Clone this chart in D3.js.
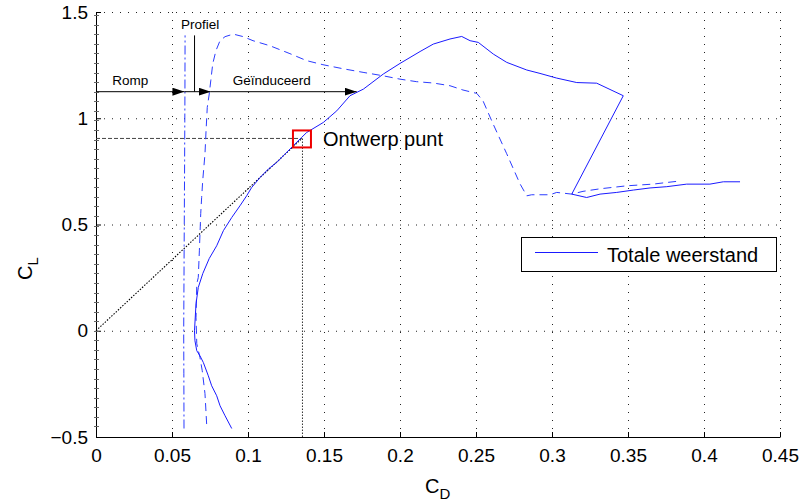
<!DOCTYPE html>
<html>
<head>
<meta charset="utf-8">
<script src="https://cdn.jsdelivr.net/npm/d3@7"></script>
<style>
  body { margin: 0; background: #fff; }
  text { font-family: "Liberation Sans", Arial, sans-serif; }
</style>
</head>
<body>
<script>
// CD / CL values
const rompCD = [0.0579, 0.0578, 0.0577, 0.0580, 0.0583, 0.0585, 0.0586];
const rompCL = [-0.46, -0.2, 0.0, 0.4, 0.8, 1.1, 1.39];

const profielCD = [0.0728, 0.0717, 0.0699, 0.0684, 0.0663, 0.0658, 0.0663, 0.0673, 0.0680, 0.0689, 0.0695, 0.0702, 0.0717, 0.0724,
  0.0732, 0.0745, 0.0755, 0.0768, 0.0789, 0.0816, 0.0849, 0.0903, 0.0969, 0.1033, 0.1145, 0.1276, 0.1386, 0.1493, 0.1625,
  0.1757, 0.1888, 0.2000, 0.2110, 0.2217, 0.2329, 0.2414, 0.2505, 0.2546, 0.2612, 0.2702, 0.2789, 0.2834, 0.2866, 0.2987,
  0.3031, 0.3130, 0.3204, 0.3316, 0.3491, 0.3664, 0.3820];
const profielCL = [-0.439, -0.296, -0.188, -0.126, -0.061, 0.061, 0.221, 0.251, 0.376, 0.551, 0.627, 0.706, 0.833, 0.941,
  1.051, 1.114, 1.176, 1.256, 1.318, 1.365, 1.384, 1.396, 1.384, 1.365, 1.341, 1.304, 1.271, 1.252, 1.233,
  1.216, 1.200, 1.184, 1.172, 1.166, 1.153, 1.133, 1.117, 1.082, 0.974, 0.833, 0.692, 0.635, 0.640, 0.640,
  0.651, 0.643, 0.656, 0.668, 0.682, 0.690, 0.703];

const totaalCD = [0.0893, 0.0849, 0.0816, 0.0794, 0.0761, 0.0739, 0.0706, 0.0684, 0.0663, 0.0651, 0.0648, 0.0658, 0.0673,
  0.0703, 0.0745, 0.0794, 0.0838, 0.0893, 0.0947, 0.0991, 0.1024, 0.1079, 0.1134, 0.1189, 0.1243, 0.1298, 0.1353, 0.1386, 0.1495,
  0.1584, 0.1671, 0.1759, 0.1890, 0.2000, 0.2132, 0.2219, 0.2329, 0.2406, 0.2461, 0.2515, 0.2614, 0.2702, 0.2834, 0.2921,
  0.3031, 0.3163, 0.3294, 0.3469, 0.3130, 0.3228, 0.3316, 0.3426, 0.3535, 0.3645, 0.3755, 0.3886, 0.4039, 0.4127, 0.4237];
const totaalCL = [-0.46, -0.40, -0.353, -0.306, -0.259, -0.212, -0.149, -0.118, -0.094, -0.047, 0.0, 0.127, 0.204,
  0.270, 0.340, 0.400, 0.471, 0.533, 0.588, 0.635, 0.674, 0.721, 0.761, 0.792, 0.831, 0.871, 0.910, 0.933, 0.980,
  1.035, 1.106, 1.137, 1.208, 1.258, 1.314, 1.349, 1.373, 1.385, 1.365, 1.357, 1.302, 1.263, 1.227, 1.211,
  1.189, 1.168, 1.165, 1.106, 0.643, 0.627, 0.643, 0.651, 0.662, 0.672, 0.678, 0.690, 0.690, 0.701, 0.701];

const ontwerpCD = 0.1355, ontwerpCL = 0.905;
const arrowCL = 1.125;
const arrowStops = [0, 0.0582, 0.0755, 0.1715];
const arrowLabels = ["Romp", "Geïnduceerd"];
const xTicks = [0, 0.05, 0.1, 0.15, 0.2, 0.25, 0.3, 0.35, 0.4, 0.45];
const yTicks = [-0.5, 0, 0.5, 1, 1.5];

const width = 810, height = 503;
const margin = {top: 12, right: 30, bottom: 66, left: 96};

const x = d3.scaleLinear().domain([0, 0.45]).range([margin.left, width - margin.right]);
const y = d3.scaleLinear().domain([-0.5, 1.5]).range([height - margin.bottom, margin.top]);

const svg = d3.select("body").append("svg")
    .attr("width", width)
    .attr("height", height);

const defs = svg.append("defs");
defs.append("marker")
    .attr("id", "head")
    .attr("viewBox", "0 0 12 8")
    .attr("refX", 12).attr("refY", 4)
    .attr("markerWidth", 12).attr("markerHeight", 8)
    .attr("markerUnits", "userSpaceOnUse")
    .attr("orient", "auto")
  .append("path")
    .attr("d", "M0,0L12,4L0,8Z")
    .attr("fill", "#000");

// grid
const grid = svg.append("g")
    .attr("stroke", "#222")
    .attr("stroke-width", 1)
    .attr("stroke-dasharray", "1,7");
grid.selectAll(".gx").data(xTicks).join("line")
    .attr("x1", d => x(d) + 0.5).attr("x2", d => x(d) + 0.5)
    .attr("y1", y(-0.5)).attr("y2", y(1.5));
grid.selectAll(".gy").data(yTicks).join("line")
    .attr("y1", d => y(d) + 0.5).attr("y2", d => y(d) + 0.5)
    .attr("x1", x(0)).attr("x2", x(0.45));

// axes
const xAxis = g => g
    .attr("transform", `translate(0,${y(-0.5)})`)
    .call(d3.axisBottom(x).tickValues(xTicks).tickSizeInner(-5).tickSizeOuter(0).tickPadding(12)
      .tickFormat(d => d3.format("~g")(d)))
    .call(g => g.selectAll("text").attr("font-size", 19).attr("fill", "#000"));

const yAxis = g => g
    .attr("transform", `translate(${x(0)},0)`)
    .call(d3.axisLeft(y).tickValues(yTicks).tickSizeInner(-5).tickSizeOuter(0).tickPadding(8)
      .tickFormat(d => d < 0 ? "\u2212" + Math.abs(d) : d3.format("~g")(d)))
    .call(g => g.selectAll("text").attr("font-size", 19).attr("fill", "#000"));

svg.append("g").call(xAxis);
svg.append("g").call(yAxis);

// small marks along the left axis
svg.append("g")
    .attr("stroke", "#666")
  .selectAll("line")
  .data(d3.range(-0.45, 1.5, 0.045))
  .join("line")
    .attr("x1", x(0) - 2).attr("x2", x(0) + 3)
    .attr("y1", d => Math.round(y(d)) + 0.5).attr("y2", d => Math.round(y(d)) + 0.5);

// design point construction lines
svg.append("line")
    .attr("x1", x(0)).attr("y1", y(ontwerpCL))
    .attr("x2", x(ontwerpCD)).attr("y2", y(ontwerpCL))
    .attr("stroke", "#444").attr("stroke-dasharray", "4,2");
svg.append("line")
    .attr("x1", x(ontwerpCD) + 0.5).attr("y1", y(-0.5))
    .attr("x2", x(ontwerpCD) + 0.5).attr("y2", y(ontwerpCL))
    .attr("stroke", "#333").attr("stroke-dasharray", "1.5,1.5");
svg.append("line")
    .attr("x1", x(0)).attr("y1", y(0))
    .attr("x2", x(ontwerpCD)).attr("y2", y(ontwerpCL))
    .attr("stroke", "#000").attr("stroke-width", 1.1).attr("stroke-dasharray", "1.5,1.5");

const line = d3.line().x(d => x(d[0])).y(d => y(d[1]));

svg.append("path")
    .datum(d3.zip(rompCD, rompCL))
    .attr("fill", "none")
    .attr("stroke", "#2b3cff")
    .attr("stroke-dasharray", "9,3,2,3")
    .attr("d", line);

svg.append("path")
    .datum(d3.zip(profielCD, profielCL))
    .attr("fill", "none")
    .attr("stroke", "#2b3cff")
    .attr("stroke-dasharray", "8,5")
    .attr("d", line);

svg.append("path")
    .datum(d3.zip(totaalCD, totaalCL))
    .attr("fill", "none")
    .attr("stroke", "#1a1aff")
    .attr("d", line);

// design point box
svg.append("rect")
    .attr("x", x(ontwerpCD) - 9).attr("y", y(ontwerpCL) - 8)
    .attr("width", 18).attr("height", 17)
    .attr("fill", "none")
    .attr("stroke", "#e00")
    .attr("stroke-width", 2);
svg.append("text")
    .attr("x", x(ontwerpCD) + 21).attr("y", y(ontwerpCL) + 8)
    .attr("font-size", 20)
    .text("Ontwerp punt");

// drag breakdown arrows
svg.append("g")
    .attr("stroke", "#000")
  .selectAll("line")
  .data(d3.pairs(arrowStops))
  .join("line")
    .attr("x1", d => x(d[0])).attr("x2", d => x(d[1]))
    .attr("y1", y(arrowCL)).attr("y2", y(arrowCL))
    .attr("marker-end", "url(#head)");

svg.append("text")
    .attr("x", x((arrowStops[0] + arrowStops[1]) / 2) - 10).attr("y", y(arrowCL) - 7)
    .attr("text-anchor", "middle").attr("font-size", 13.5)
    .text(arrowLabels[0]);
svg.append("text")
    .attr("x", x((arrowStops[2] + arrowStops[3]) / 2) - 12).attr("y", y(arrowCL) - 7)
    .attr("text-anchor", "middle").attr("font-size", 13.5)
    .text(arrowLabels[1]);

// Profiel leader
svg.append("line")
    .attr("x1", x(0.0645) + 0.5).attr("x2", x(0.0645) + 0.5)
    .attr("y1", y(1.39)).attr("y2", y(arrowCL))
    .attr("stroke", "#000");
svg.append("text")
    .attr("x", x(0.0685)).attr("y", y(1.42))
    .attr("text-anchor", "middle").attr("font-size", 13.5)
    .text("Profiel");

// axis labels
const xl = svg.append("text")
    .attr("x", 425).attr("y", 493)
    .attr("font-size", 20);
xl.append("tspan").text("C");
xl.append("tspan").attr("font-size", 15).attr("dy", 6).text("D");

const yl = svg.append("text")
    .attr("transform", "translate(32,280) rotate(-90)")
    .attr("font-size", 20);
yl.append("tspan").text("C");
yl.append("tspan").attr("font-size", 15).attr("dy", 6).text("L");

// legend
const legend = svg.append("g");
legend.append("rect")
    .attr("x", 521.5).attr("y", 237.5)
    .attr("width", 255).attr("height", 34)
    .attr("fill", "#fff").attr("stroke", "#000");
legend.append("line")
    .attr("x1", 535).attr("x2", 598)
    .attr("y1", 252.5).attr("y2", 252.5)
    .attr("stroke", "#1a1aff");
legend.append("text")
    .attr("x", 607).attr("y", 262)
    .attr("font-size", 20)
    .text("Totale weerstand");
</script>
</body>
</html>
